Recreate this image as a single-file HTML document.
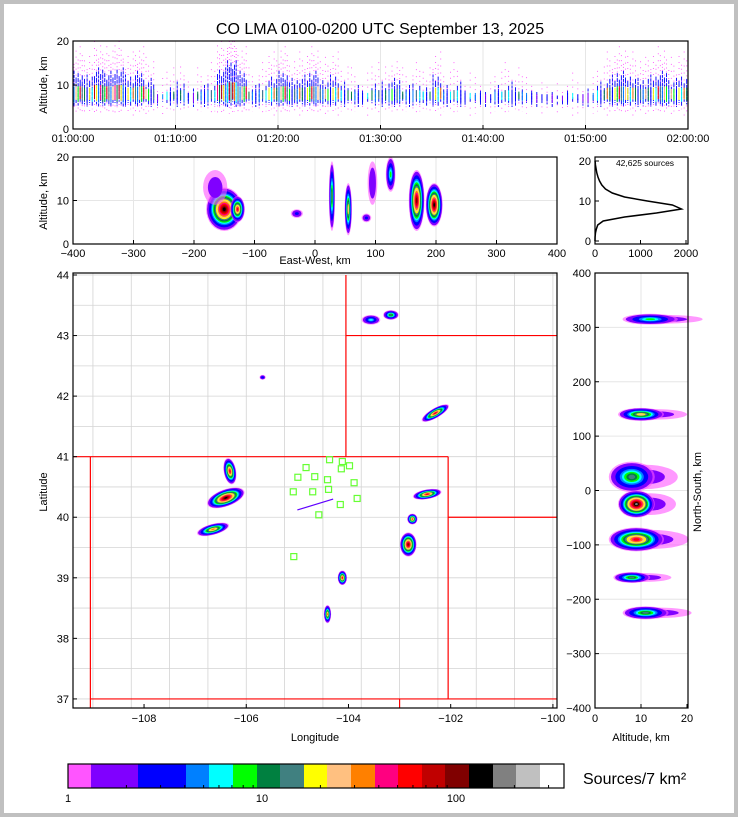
<!DOCTYPE html>
<html><head><meta charset="utf-8"><style>
html,body{margin:0;padding:0;background:#fff}
svg{display:block;font-family:"Liberation Sans",sans-serif}
</style></head><body>
<svg id="s" width="738" height="817" viewBox="0 0 738 817" xmlns="http://www.w3.org/2000/svg">
<rect x="0" y="0" width="738" height="817" fill="#c0c0c0"/>
<rect x="4" y="4" width="730" height="809" fill="#fff"/>
<text x="380" y="34" font-size="16" text-anchor="middle">CO LMA 0100-0200 UTC September 13, 2025</text>
<g id="g"></g>
</svg>
<script>
// ---------- data ----------
const cmap=['#ff55ff','#8000ff','#8000ff','#0000ff','#0000ff','#0080ff','#00ffff','#00ff00','#008040','#408080','#ffff00','#ffc080','#ff8000','#ff0080','#ff0000','#c00000','#800000','#000000','#808080','#c0c0c0','#ffffff'];
const cbarColors=['#ff55ff','#8000ff','#0000ff','#0080ff','#00ffff','#00ff00','#008040','#408080','#ffff00','#ffc080','#ff8000','#ff0080','#ff0000','#c00000','#800000','#000000','#808080','#c0c0c0','#ffffff'];
const timeTicks=['01:00:00','01:10:00','01:20:00','01:30:00','01:40:00','01:50:00','02:00:00'];
const minuteActivity=[9,8,10,9,10,8,9,7,3,5,6,4,5,6,10,12,9,5,6,8,9,7,8,9,7,8,6,5,4,6,6,7,5,6,5,8,5,6,4,4,3,5,6,5,4,3,3,2,4,3,4,6,8,9,8,7,8,9,7,8];
const ewTicks=[-400,-300,-200,-100,0,100,200,300,400];
const ewCells=[[-150,8,30,5,17],[-128,8,12,3,14],[-165,13,20,4,1],[28,11,5,8,9],[55,8,6,6,11],[95,14,8,5,2],[125,16,8,4,7],[168,10,13,7,16],[197,9,14,5,17],[-30,7,10,1,3],[85,6,8,1,3]];
const histAlt=[0,1,2,3,4,5,6,7,8,9,10,11,12,13,14,15,16,17,18,19,20];
const histCount=[0,2,10,30,60,180,650,1350,1900,1700,1150,650,380,230,150,100,65,40,25,10,2];
const lonTicks=[-108,-106,-104,-102,-100];
const latTicks=[37,38,39,40,41,42,43,44];
const mapCells=[[-103.56,43.26,0.18,0.08,6,0],[-103.17,43.34,0.15,0.08,9,0],[-105.68,42.31,0.06,0.04,4,0],[-102.3,41.72,0.3,0.08,14,-30],[-106.32,40.76,0.12,0.22,14,-10],[-106.4,40.32,0.38,0.14,17,-20],[-106.65,39.8,0.32,0.09,12,-15],[-102.46,40.38,0.28,0.08,14,-10],[-102.75,39.97,0.1,0.09,13,0],[-102.83,39.55,0.16,0.2,16,0],[-104.12,39.0,0.09,0.12,14,0],[-104.41,38.4,0.07,0.15,12,0]];
const stationLon=[-104.37,-104.12,-103.98,-104.83,-104.14,-104.99,-104.66,-104.41,-103.89,-105.08,-104.70,-104.39,-103.83,-104.16,-104.58,-105.07];
const stationLat=[40.95,40.92,40.85,40.82,40.80,40.66,40.67,40.62,40.57,40.42,40.42,40.46,40.31,40.21,40.04,39.35];
const nsTicks=[-400,-300,-200,-100,0,100,200,300,400];
const nsCells=[[12,315,6,10,7],[10,140,5,12,11],[8,25,5,28,9],[9,-25,4,25,18],[9,-90,6,22,14],[8,-160,4,10,9],[11,-225,5,12,9]];
const cbarLabels=[1,10,100];
// ---------- helpers ----------
const g=document.getElementById('g');const NS='http://www.w3.org/2000/svg';
function mk(t,a,p){const e=document.createElementNS(NS,t);for(const k in a)e.setAttribute(k,a[k]);(p||g).appendChild(e);return e;}
function txt(x,y,s,sz,anc,p){const e=mk('text',{x:x,y:y,'font-size':sz,'text-anchor':anc||'middle'},p);e.textContent=s;return e;}
function lin(a,b,c,d){return v=>c+(v-a)*(d-c)/(b-a);}
function frame(x,y,w,h,name){const e=mk('rect',{x:x,y:y,width:w,height:h,fill:'none',stroke:'#000','stroke-width':1.2});}
function blob(cx,cy,rx,ry,peak,ang,p){for(let k=0;k<=peak;k++){const f=1-k/(peak+1.5);mk('ellipse',{cx:cx,cy:cy,rx:Math.max(rx*f,0.6),ry:Math.max(ry*f,0.6),fill:cmap[k],'fill-opacity':k===0?0.6:1,transform:'rotate('+ang+' '+cx+' '+cy+')'},p);}}
// ---------- top time-height panel ----------
{const X=lin(0,60,73,688),Y=lin(0,20,129,41);const p=mk('g',{});
for(let i=1;i<6;i++){mk('line',{x1:X(i*10),x2:X(i*10),y1:41,y2:129,stroke:'#e6e6e6'},p);}
mk('line',{x1:73,x2:688,y1:Y(10),y2:Y(10),stroke:'#e6e6e6'},p);
minuteActivity.forEach((a,i)=>{const n=Math.max(2,Math.round(a/2));for(let j=0;j<n;j++){const x=X(i+(j+0.5)/n);const v=(i*7+j*3)%5;
const top=Math.min(4+a*1.2+v,20),bot=Math.max(5-v*0.5,1.5);
mk('line',{x1:x,x2:x,y1:Y(top),y2:Y(bot),stroke:'#ff55ff','stroke-width':0.9,'stroke-dasharray':'1 '+(2+v)},p);
const t2=6+a*0.8-v*0.5,b2=5+v*0.3;mk('line',{x1:x,x2:x,y1:Y(t2),y2:Y(b2),stroke:'#0000ff','stroke-width':0.9,'stroke-dasharray':(3+v)+' 1'},p);
const lvl=Math.min(Math.round(a*(0.5+0.25*v)),15);const t3=7+a*0.3,b3=6+v*0.2;
mk('line',{x1:x,x2:x,y1:Y(t3),y2:Y(b3),stroke:cmap[lvl],'stroke-width':1},p);}});
frame(73,41,615,88,'time-height-frame');
[0,10,20].forEach(v=>{mk('line',{x1:73,x2:77,y1:Y(v),y2:Y(v),stroke:'#000'});txt(69,Y(v)+4,v,11,'end');});
timeTicks.forEach((t,i)=>{mk('line',{x1:X(i*10),x2:X(i*10),y1:129,y2:125,stroke:'#000'});txt(X(i*10),142,t,11);});
const yl=txt(0,0,'Altitude, km',11);yl.setAttribute('transform','translate(47,85) rotate(-90)');}
// ---------- east-west panel ----------
{const X=lin(-400,400,73,557),Y=lin(0,20,244,157);const p=mk('g',{});
ewTicks.forEach(v=>mk('line',{x1:X(v),x2:X(v),y1:157,y2:244,stroke:'#e6e6e6'},p));
mk('line',{x1:73,x2:557,y1:Y(10),y2:Y(10),stroke:'#e6e6e6'},p);
ewCells.forEach(c=>blob(X(c[0]),Y(c[1]),c[2]*0.605,c[3]*4.35,c[4],0,p));
frame(73,157,484,87,'east-west-frame');
[0,10,20].forEach(v=>{mk('line',{x1:73,x2:77,y1:Y(v),y2:Y(v),stroke:'#000'});txt(69,Y(v)+4,v,11,'end');});
ewTicks.forEach(v=>{mk('line',{x1:X(v),x2:X(v),y1:244,y2:240,stroke:'#000'});txt(X(v),257,v===0?'0':(v<0?'−'+(-v):v),11);});
txt(315,264,'East-West, km',11);
const yl=txt(0,0,'Altitude, km',11);yl.setAttribute('transform','translate(47,201) rotate(-90)');}
// ---------- histogram ----------
{const X=lin(0,2000,595,686),Y=lin(0,20,241,161);let d='';histAlt.forEach((a,i)=>{d+=(i?'L':'M')+X(histCount[i])+' '+Y(a);});
const pa=mk('path',{d:d,fill:'none',stroke:'#000','stroke-width':1.5});
frame(595,157,93,87,'histogram-frame');
[0,10,20].forEach(v=>{mk('line',{x1:595,x2:599,y1:Y(v),y2:Y(v),stroke:'#000'});txt(591,Y(v)+4,v,11,'end');});
[0,1000,2000].forEach(v=>{mk('line',{x1:X(v),x2:X(v),y1:244,y2:240,stroke:'#000'});txt(X(v),257,v,11);});
txt(645,166,'42,625 sources',8.5);}
// ---------- map ----------
{const X=lin(-109.39,-99.92,73,557),Y=lin(44,36.85,275,708);const p=mk('g',{});
mk('rect',{x:73,y:273,width:484,height:435,fill:'#fff'},p);
for(let lo=-109;lo<=-100;lo+=0.75){mk('line',{x1:X(lo),x2:X(lo),y1:273,y2:708,stroke:'#d4d4d4','stroke-width':0.8},p);}
for(let la=37;la<=44;la+=0.5){mk('line',{x1:73,x2:557,y1:Y(la),y2:Y(la),stroke:'#d4d4d4','stroke-width':0.8},p);}
const red=[[-104.05,44,-104.05,41],[-104.05,43,-99.92,43],[-109.39,41,-102.05,41],[-109.05,41,-109.05,36.85],[-102.05,41,-102.05,37],[-109.05,37,-99.92,37],[-102.05,40,-99.92,40],[-103,37,-103,36.85]];
red.forEach(r=>{const l=mk('line',{x1:X(r[0]),y1:Y(r[1]),x2:X(r[2]),y2:Y(r[3]),stroke:'#ff0000','stroke-width':1.2},p);});
mapCells.forEach(c=>blob(X(c[0]),Y(c[1]),c[2]*51.8,c[3]*60.4,c[4],c[5],p));
mk('line',{x1:X(-105.0),y1:Y(40.12),x2:X(-104.3),y2:Y(40.3),stroke:'#6000ff','stroke-width':1.2},p);
stationLon.forEach((lo,i)=>{const r=mk('rect',{x:X(lo)-3,y:Y(stationLat[i])-3,width:6,height:6,fill:'none',stroke:'#66ff33','stroke-width':1.2},p);});
frame(73,273,484,435,'map-frame');
lonTicks.forEach(v=>{mk('line',{x1:X(v),x2:X(v),y1:708,y2:704,stroke:'#000'});txt(X(v),722,'−'+(-v),11);});
latTicks.forEach(v=>{mk('line',{x1:73,x2:77,y1:Y(v),y2:Y(v),stroke:'#000'});txt(69,Y(v)+4,v,11,'end');});
txt(315,741,'Longitude',11);
const yl=txt(0,0,'Latitude',11);yl.setAttribute('transform','translate(47,492) rotate(-90)');}
// ---------- north-south panel ----------
{const X=lin(0,20,595,687),Y=lin(400,-400,273,708);const p=mk('g',{});
mk('line',{x1:X(10),x2:X(10),y1:273,y2:708,stroke:'#e6e6e6'},p);
nsTicks.forEach(v=>mk('line',{x1:595,x2:688,y1:Y(v),y2:Y(v),stroke:'#e6e6e6'},p));
nsCells.forEach(c=>{blob(X(c[0]+3),Y(c[1]),c[2]*4.6*1.4,c[3]*0.544*0.8,1,0,p);blob(X(c[0]),Y(c[1]),c[2]*4.6,c[3]*0.544,c[4],0,p);});
frame(595,273,93,435,'north-south-frame');
nsTicks.forEach(v=>{mk('line',{x1:595,x2:599,y1:Y(v),y2:Y(v),stroke:'#000'});txt(591,Y(v)+4,v<0?'−'+(-v):v,11,'end');});
[0,10,20].forEach(v=>{mk('line',{x1:X(v),x2:X(v),y1:708,y2:704,stroke:'#000'});txt(X(v),722,v,11);});
txt(641,741,'Altitude, km',11);
const yl=txt(0,0,'North-South, km',11);yl.setAttribute('transform','translate(701,492) rotate(-90)');}
// ---------- colorbar ----------
{const bounds=[68,91,138,186,209,233,257,280,304,327,351,375,398,422,445,469,493,516,540,564];const p=mk('g',{});
for(let i=0;i<bounds.length-1;i++){mk('rect',{x:bounds[i],y:764,width:bounds[i+1]-bounds[i]+0.3,height:24,fill:cbarColors[i]},p);}
frame(68,764,496,24,'colorbar-frame');
const C=v=>68+Math.log10(v)*194;
cbarLabels.forEach(v=>{txt(C(v),802,v,11);});
for(let d=0;d<3;d++)for(let m=2;m<10;m++){const x=C(m*Math.pow(10,d));if(x<564)mk('line',{x1:x,x2:x,y1:788,y2:785,stroke:'#000'});}
txt(583,784,'Sources/7 km²',16,'start');}
</script>
</body></html>
